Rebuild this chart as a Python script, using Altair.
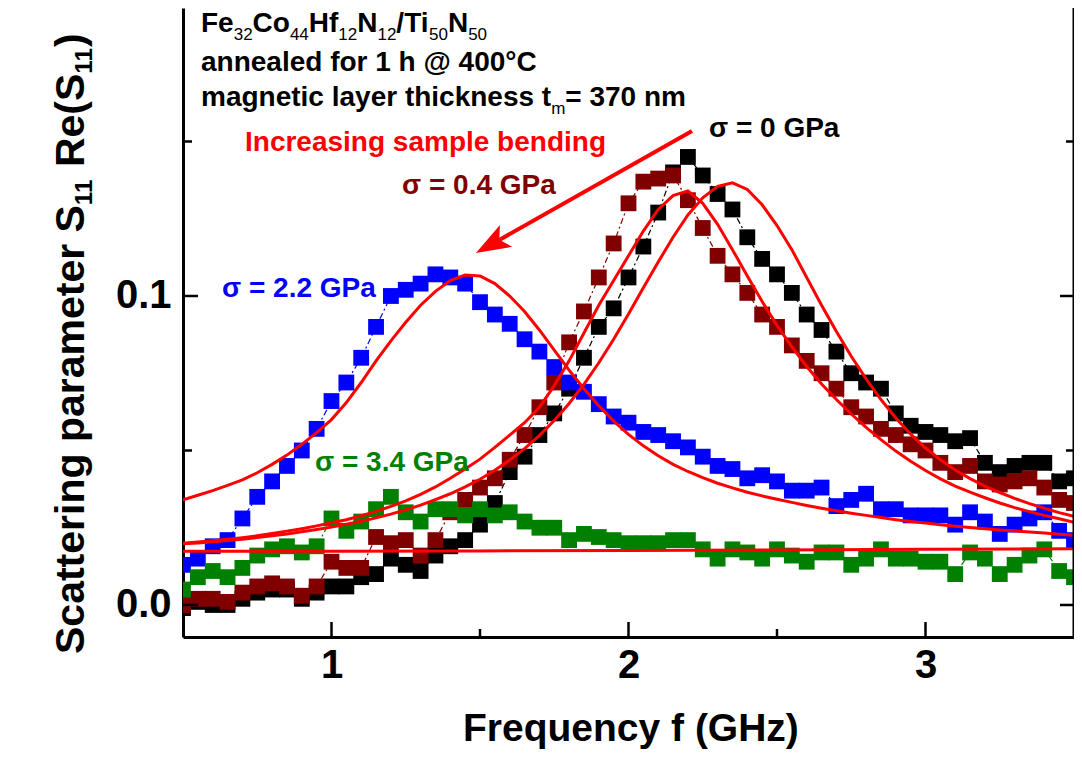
import altair as alt
import pandas as pd

# ---------------- data ----------------
FREQ = [0.50, 0.55, 0.60, 0.65, 0.70, 0.75, 0.80, 0.85, 0.90, 0.95,
        1.00, 1.05, 1.10, 1.15, 1.20, 1.25, 1.30, 1.35, 1.40, 1.45,
        1.50, 1.55, 1.60, 1.65, 1.70, 1.75, 1.80, 1.85, 1.90, 1.95,
        2.00, 2.05, 2.10, 2.15, 2.20, 2.25, 2.30, 2.35, 2.40, 2.45,
        2.50, 2.55, 2.60, 2.65, 2.70, 2.75, 2.80, 2.85, 2.90, 2.95,
        3.00, 3.05, 3.10, 3.15, 3.20, 3.25, 3.30, 3.35, 3.40, 3.45,
        3.50]

S_0 = [-0.001, 0.001, 0.000, 0.000, 0.002, 0.004, 0.005, 0.005, 0.002, 0.004,
       0.006, 0.006, 0.009, 0.010, 0.015, 0.013, 0.011, 0.016, 0.019, 0.021,
       0.026, 0.033, 0.043, 0.048, 0.055, 0.062, 0.070, 0.080, 0.090, 0.096,
       0.106, 0.116, 0.127, 0.140, 0.145, 0.139, 0.133, 0.128, 0.119, 0.112,
       0.107, 0.101, 0.094, 0.089, 0.082, 0.075, 0.072, 0.070, 0.062, 0.058,
       0.056, 0.055, 0.053, 0.054, 0.046, 0.043, 0.045, 0.046, 0.046, 0.040,
       0.041]

S_04 = [0.000, 0.002, 0.002, 0.001, 0.004, 0.006, 0.007, 0.006, 0.003, 0.006,
        0.014, 0.012, 0.012, 0.022, 0.020, 0.021, 0.016, 0.021, 0.030, 0.034,
        0.038, 0.041, 0.047, 0.055, 0.064, 0.072, 0.085, 0.095, 0.106, 0.117,
        0.130, 0.137, 0.138, 0.139, 0.131, 0.122, 0.113, 0.107, 0.101, 0.094,
        0.090, 0.084, 0.079, 0.075, 0.070, 0.064, 0.061, 0.057, 0.055, 0.052,
        0.050, 0.046, 0.043, 0.045, 0.040, 0.039, 0.040, 0.041, 0.038, 0.034,
        0.033]

S_22 = [0.013, 0.015, 0.019, 0.021, 0.028, 0.035, 0.040, 0.045, 0.050, 0.057,
        0.066, 0.072, 0.080, 0.090, 0.100, 0.102, 0.104, 0.107, 0.106, 0.104,
        0.098, 0.094, 0.091, 0.086, 0.082, 0.077, 0.072, 0.069, 0.065, 0.061,
        0.059, 0.056, 0.055, 0.053, 0.051, 0.048, 0.045, 0.044, 0.041, 0.042,
        0.040, 0.037, 0.037, 0.038, 0.032, 0.034, 0.036, 0.031, 0.031, 0.029,
        0.029, 0.029, 0.026, 0.030, 0.027, 0.023, 0.026, 0.028, 0.030, 0.024,
        0.021]

S_34 = [0.005, 0.009, 0.011, 0.009, 0.012, 0.016, 0.018, 0.019, 0.017, 0.019,
        0.028, 0.024, 0.027, 0.031, 0.035, 0.030, 0.027, 0.031, 0.031, 0.029,
        0.031, 0.029, 0.030, 0.027, 0.025, 0.025, 0.021, 0.023, 0.022, 0.021,
        0.020, 0.020, 0.020, 0.021, 0.021, 0.018, 0.015, 0.018, 0.017, 0.015,
        0.018, 0.016, 0.014, 0.017, 0.017, 0.013, 0.015, 0.018, 0.015, 0.015,
        0.014, 0.014, 0.010, 0.017, 0.015, 0.010, 0.013, 0.016, 0.018, 0.011,
        0.009]

# red fit curves
FIT_0 = [0.0198, 0.0201, 0.0205, 0.0209, 0.0213, 0.0218, 0.0224, 0.0230, 0.0237, 0.0244,
         0.0252, 0.0261, 0.0271, 0.0282, 0.0294, 0.0308, 0.0323, 0.0341, 0.0360, 0.0382,
         0.0407, 0.0436, 0.0469, 0.0506, 0.0548, 0.0597, 0.0652, 0.0714, 0.0784, 0.0860,
         0.0942, 0.1027, 0.1110, 0.1190, 0.1262, 0.1318, 0.1355, 0.1366, 0.1345, 0.1295,
         0.1228, 0.1150, 0.1060, 0.0970, 0.0885, 0.0805, 0.0732, 0.0665, 0.0605, 0.0553,
         0.0508, 0.0470, 0.0437, 0.0409, 0.0385, 0.0364, 0.0345, 0.0328, 0.0313, 0.0299,
         0.0287]

FIT_04 = [0.0200, 0.0204, 0.0208, 0.0213, 0.0218, 0.0224, 0.0231, 0.0239, 0.0247, 0.0256,
          0.0266, 0.0276, 0.0289, 0.0303, 0.0319, 0.0337, 0.0358, 0.0382, 0.0410, 0.0440,
          0.0472, 0.0510, 0.0550, 0.0590, 0.0640, 0.0710, 0.0790, 0.0880, 0.0970, 0.1050,
          0.1130, 0.1210, 0.1280, 0.1325, 0.1340, 0.1300, 0.1232, 0.1150, 0.1065, 0.0982,
          0.0905, 0.0835, 0.0772, 0.0715, 0.0665, 0.0618, 0.0575, 0.0535, 0.0498, 0.0465,
          0.0435, 0.0408, 0.0385, 0.0365, 0.0347, 0.0330, 0.0315, 0.0302, 0.0290, 0.0279,
          0.0268]

FIT_22 = [0.0340, 0.0355, 0.0370, 0.0387, 0.0405, 0.0428, 0.0455, 0.0485, 0.0520, 0.0558,
          0.0600, 0.0655, 0.0720, 0.0790, 0.0855, 0.0915, 0.0970, 0.1015, 0.1050, 0.1068,
          0.1065, 0.1040, 0.1000, 0.0950, 0.0890, 0.0825, 0.0760, 0.0700, 0.0645, 0.0595,
          0.0552, 0.0515, 0.0483, 0.0455, 0.0432, 0.0412, 0.0394, 0.0379, 0.0365, 0.0353,
          0.0342, 0.0332, 0.0322, 0.0313, 0.0305, 0.0297, 0.0290, 0.0283, 0.0276, 0.0270,
          0.0265, 0.0260, 0.0255, 0.0251, 0.0247, 0.0243, 0.0240, 0.0236, 0.0233, 0.0229,
          0.0226]

FIT_34_FREQ = [0.5, 1.0, 1.5, 2.0, 2.5, 3.0, 3.5]
FIT_34 = [0.0174, 0.0174, 0.0175, 0.0176, 0.0178, 0.0180, 0.0182]

SERIES = ["σ = 0 GPa", "σ = 0.4 GPa", "σ = 2.2 GPa", "σ = 3.4 GPa"]
COLORS = ["#000000", "#800000", "#0000ff", "#008000"]

X_MAJOR = [1.0, 2.0, 3.0]
X_MINOR = [1.5, 2.5]
Y_MAJOR = [0.0, 0.1]
Y_MINOR = [0.05, 0.15]

# ---------------- layout ----------------
W, H = 891, 629
FONT = "Liberation Sans"
RED = "#ff0000"

xs = alt.Scale(domain=[0.5, 3.5], nice=False, zero=False)
ys = alt.Scale(domain=[-0.01036, 0.1932], nice=False, zero=False)

x_axis = alt.Axis(values=X_MAJOR, format="d", title=None, grid=False, ticks=False, tickSize=0,
                  domain=True, domainColor="black", domainWidth=3, labelFont=FONT,
                  labelFontSize=40, labelFontWeight="bold", labelColor="black",
                  labelPadding=8, labelOverlap=False, labelFlush=False, labelBound=False)
y_axis = alt.Axis(values=Y_MAJOR, format=".1f", title=None, grid=False, ticks=False, tickSize=0,
                  domain=True, domainColor="black", domainWidth=3, labelFont=FONT,
                  labelFontSize=40, labelFontWeight="bold", labelColor="black",
                  labelPadding=12, labelOverlap=False, labelFlush=False, labelBound=False)

X = alt.X("f:Q", scale=xs, axis=x_axis)
Y = alt.Y("v:Q", scale=ys, axis=y_axis)

rows = []
for name, col, vals in zip(SERIES, COLORS, [S_0, S_04, S_22, S_34]):
    for f, v in zip(FREQ, vals):
        rows.append({"f": f, "v": v, "series": name, "color": col})
pts = pd.DataFrame(rows)

frows = []
for name, fq, vals in [("fit0", FREQ, FIT_0), ("fit04", FREQ, FIT_04),
                       ("fit22", FREQ, FIT_22), ("fit34", FIT_34_FREQ, FIT_34)]:
    for f, v in zip(fq, vals):
        frows.append({"f": f, "v": v, "fit": name})
fits = pd.DataFrame(frows)


# ---- ticks (inward) ----
def xticks(vals, length):
    return alt.Chart(pd.DataFrame({"f": vals})).mark_rule(color="black", strokeWidth=2.5).encode(
        x=X, y=alt.value(H), y2=alt.value(H - length))


def yticks(vals, length, right=False):
    x0 = W if right else 0
    x1 = W - length if right else length
    return alt.Chart(pd.DataFrame({"v": vals})).mark_rule(color="black", strokeWidth=2.5).encode(
        y=Y, x=alt.value(x0), x2=alt.value(x1))


one = pd.DataFrame({"k": [0]})
right_border = alt.Chart(one).mark_rule(color="black", strokeWidth=3).encode(
    x=alt.value(W), y=alt.value(0), y2=alt.value(H))

lines = alt.Chart(pts).mark_line(strokeWidth=1.2, strokeDash=[6, 3, 2, 3], clip=True).encode(
    x=X, y=Y, color=alt.Color("color:N", scale=None), detail="series:N", order="f:Q")
squares = alt.Chart(pts).mark_square(size=250, opacity=1, clip=True).encode(
    x=X, y=Y, color=alt.Color("color:N", scale=None))
fit_lines = alt.Chart(fits).mark_line(color=RED, strokeWidth=3, clip=True).encode(
    x=X, y=Y, detail="fit:N", order="f:Q")

# ---- arrow ----
arrow_line = alt.Chart(one).mark_rule(color=RED, strokeWidth=4).encode(
    x=alt.value(509), y=alt.value(123), x2=alt.value(310), y2=alt.value(235.5))
arrow_head = alt.Chart(one).mark_point(
    shape="M1,0L-1,-0.72L-0.55,0L-1,0.72Z", filled=True, size=1200, color=RED,
    opacity=1, angle=150.5, strokeWidth=0).encode(x=alt.value(308), y=alt.value(236.5))

# ---- text with subscripts ----
BOLD_W = {' ': 278, '(': 333, ')': 333, '/': 278, '.': 278, '=': 584, '@': 975, '°': 400,
          'C': 722, 'F': 611, 'G': 778, 'H': 722, 'I': 278, 'N': 722, 'P': 667, 'R': 722,
          'S': 667, 'T': 611, 'a': 556, 'b': 611, 'c': 556, 'd': 611, 'e': 556, 'f': 333,
          'g': 611, 'h': 611, 'i': 278, 'k': 556, 'l': 278, 'm': 889, 'n': 611, 'o': 611,
          'p': 611, 'q': 611, 'r': 389, 's': 556, 't': 333, 'u': 611, 'y': 556, 'z': 500,
          'σ': 617}
REG_W = {' ': 278, 'm': 833}


def tw(s, size, bold):
    table = BOLD_W if bold else REG_W
    return sum(table.get(c, 556) for c in s) * size / 1000.0


text_rows = []


def add_text(parts, x0, y0, color, size, sub_size=0, sub_shift=0, sub_bold=False, vertical=False):
    pos = 0.0
    for txt, is_sub in parts:
        sz = sub_size if is_sub else size
        bold = sub_bold if is_sub else True
        shift = sub_shift if is_sub else 0
        lead = len(txt) - len(txt.lstrip(" "))
        pos += lead * tw(" ", sz, bold)
        core = txt.strip(" ")
        if vertical:
            text_rows.append(dict(px=x0 + shift, py=y0 - pos, text=core, size=sz,
                                  color=color, angle=270, bold=bold))
        else:
            text_rows.append(dict(px=x0 + pos, py=y0 + shift, text=core, size=sz,
                                  color=color, angle=0, bold=bold))
        pos += tw(core, sz, bold)
        trail = len(txt) - len(txt.rstrip(" "))
        pos += trail * tw(" ", sz, bold)


add_text([("Fe", 0), ("32", 1), ("Co", 0), ("44", 1), ("Hf", 0), ("12", 1), ("N", 0),
          ("12", 1), ("/Ti", 0), ("50", 1), ("N", 0), ("50", 1)],
         18, 24, "#000000", 28, sub_size=17, sub_shift=8)
add_text([("annealed for 1 h @ 400°C", 0)], 18, 63, "#000000", 28)
add_text([("magnetic layer thickness t", 0), ("m", 1), ("= 370 nm", 0)],
         18, 98, "#000000", 28, sub_size=17, sub_shift=8)
add_text([("Increasing sample bending", 0)], 62, 143, RED, 28)
add_text([("σ = 0 GPa", 0)], 526, 129, "#000000", 28)
add_text([("σ = 0.4 GPa", 0)], 219, 186, "#800000", 28)
add_text([("σ = 2.2 GPa", 0)], 39, 289, "#0000ff", 28)
add_text([("σ = 3.4 GPa", 0)], 132, 463, "#008000", 28)
add_text([("Frequency f (GHz)", 0)], 280, 733, "#000000", 39)
add_text([("Scattering parameter S", 0), ("11", 1), (" Re(S", 0), ("11", 1), (")", 0)],
         -99, 646, "#000000", 41, sub_size=24, sub_shift=8, sub_bold=True, vertical=True)

tdf = pd.DataFrame(text_rows)


def text_layer(bold):
    return alt.Chart(tdf[tdf["bold"] == bold]).mark_text(
        align="left", baseline="alphabetic", font=FONT,
        fontWeight="bold" if bold else "normal").encode(
        x=alt.X("px:Q", scale=None), y=alt.Y("py:Q", scale=None),
        text="text:N", size=alt.Size("size:Q", scale=None),
        color=alt.Color("color:N", scale=None), angle=alt.Angle("angle:Q", scale=None))


chart = alt.layer(
    lines, squares, fit_lines,
    xticks(X_MAJOR, 15), xticks(X_MINOR, 8),
    yticks(Y_MAJOR, 15), yticks(Y_MINOR, 9),
    yticks(Y_MAJOR, 14, right=True), yticks(Y_MINOR, 8, right=True),
    right_border, arrow_line, arrow_head,
    text_layer(True), text_layer(False),
).properties(
    width=W, height=H,
    autosize=alt.AutoSizeParams(type="none"),
    padding={"left": 175, "top": 0, "right": 0, "bottom": 114},
    background="white",
).configure_view(stroke=None)

chart.save("out.html", embed_options={"renderer": "svg", "actions": False})
